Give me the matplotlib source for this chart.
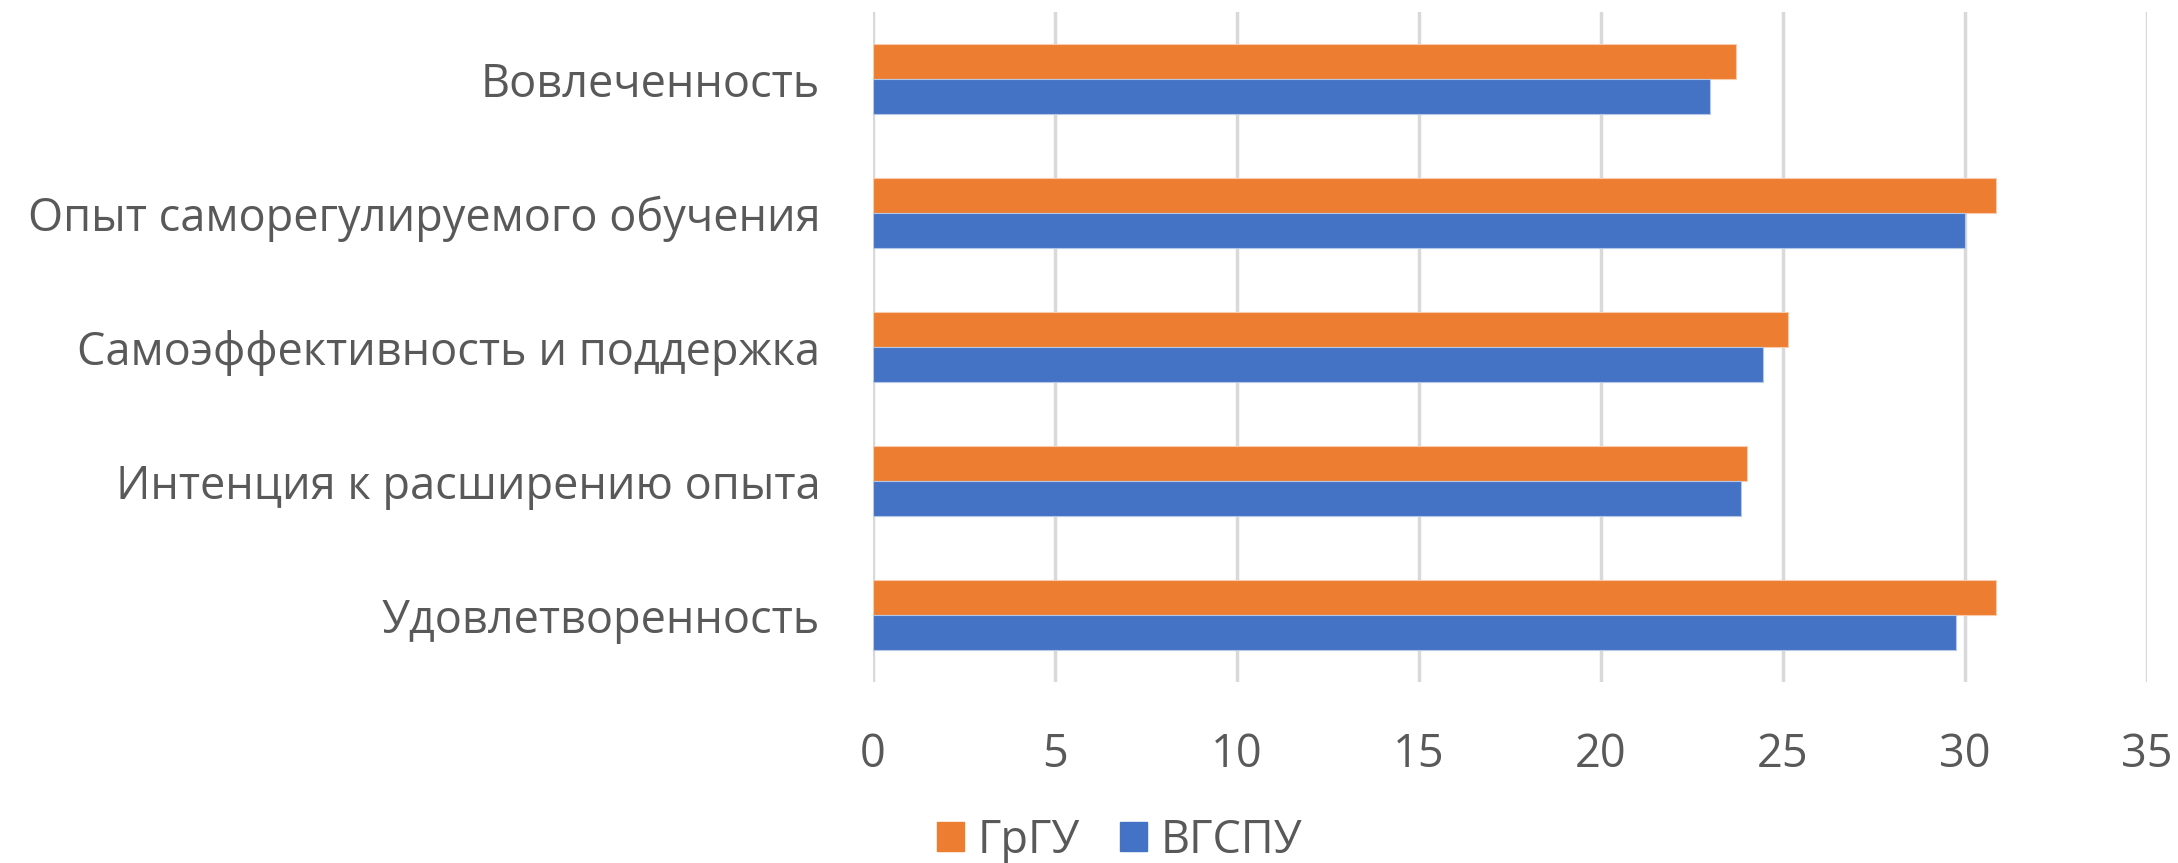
import matplotlib.pyplot as plt
import numpy as np
from matplotlib.patches import Patch

plt.rcParams['font.family'] = ['Open Sans', 'DejaVu Sans']

categories = [
    'Удовлетворенность',
    'Интенция к расширению опыта',
    'Самоэффективность и поддержка',
    'Опыт саморегулируемого обучения',
    'Вовлеченность',
]
grgu = [30.85, 24.0, 25.15, 30.85, 23.7]
vgspu = [29.75, 23.85, 24.45, 30.0, 23.0]
xticks = [0, 5, 10, 15, 20, 25, 30, 35]

orange = '#ED7D31'
blue = '#4472C4'
grey = '#595959'

fig = plt.figure(figsize=(21.78, 8.63), dpi=100)
ax = fig.add_axes([0.4008, 0.2097, 0.5850, 0.7763])

y = np.arange(len(categories))
h = 0.26
ax.barh(y + h / 2, grgu, height=h, color=orange, edgecolor='#F8CBAD', linewidth=0.8, zorder=3)
ax.barh(y - h / 2, vgspu, height=h, color=blue, edgecolor='#B4C7E7', linewidth=0.8, zorder=3)

ax.set_xlim(0, 35)
ax.set_ylim(-0.5, len(categories) - 0.5)
ax.set_xticks(xticks)
ax.set_yticks(y)
ax.set_yticklabels(categories)
ax.grid(axis='x', color='#D9D9D9', linewidth=2.5, zorder=0)
for s in ax.spines.values():
    s.set_visible(False)
ax.tick_params(axis='both', length=0, labelsize=32.5, labelcolor=grey)
ax.tick_params(axis='x', pad=36)
ax.tick_params(axis='y', pad=38)

handles = [Patch(color=orange, label='ГрГУ'), Patch(color=blue, label='ВГСПУ')]
fig.legend(handles=handles, loc='center', bbox_to_anchor=(0.514, 0.026), ncol=2,
           frameon=False, fontsize=32.5, labelcolor=grey, handlelength=0.6,
           handleheight=0.6, handletextpad=0.3, columnspacing=0.9)

fig.savefig('out.png', dpi=100)
